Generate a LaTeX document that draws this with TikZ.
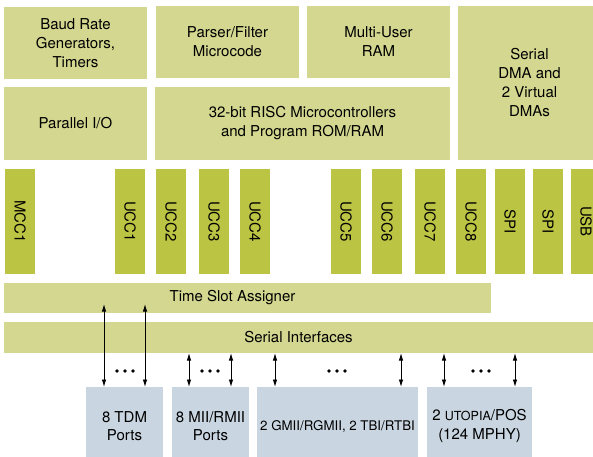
\documentclass[tikz,border=0pt]{standalone}
\usepackage{fontspec}
\setmainfont{TeX Gyre Heros}
\usetikzlibrary{arrows.meta}
\definecolor{blockgreen}{RGB}{211,215,143}
\definecolor{ccgreen}{RGB}{188,196,67}
\definecolor{portblue}{RGB}{201,213,224}
\tikzset{
  blk/.style={fill=blockgreen, inner sep=0pt, outer sep=0pt, align=center,
    font=\fontsize{15}{19}\selectfont},
  cc/.style={fill=ccgreen, inner sep=0pt, outer sep=0pt,
    minimum width=30pt, minimum height=105pt},
  cclabel/.style={rotate=-90, font=\fontsize{15}{18}\selectfont},
  port/.style={fill=portblue, inner sep=0pt, outer sep=0pt, align=center,
    minimum height=78pt, font=\fontsize{15}{18.5}\selectfont},
  link/.style={line width=0.9pt, {Latex[length=7.5pt,width=4.5pt]}-{Latex[length=7.5pt,width=4.5pt]}},
  dotmark/.style={fill=black, radius=1.8pt}
}
\begin{document}
\begin{tikzpicture}[x=1pt, y=-1pt]
\clip (0,0) rectangle (593,456);
\fill[white] (0,0) rectangle (593,456);

% top blocks
\node[blk, minimum width=143pt, minimum height=72pt] (baud) at (75.5,43) {Baud Rate\\Generators,\\Timers};
\node[blk, minimum width=143pt, minimum height=72pt] (parser) at (227.5,42) {Parser/Filter\\Microcode};
\node[blk, minimum width=143pt, minimum height=72pt] (mram) at (378.5,42) {Multi-User\\RAM};
\node[blk, minimum width=143pt, minimum height=154pt] (sdma) at (529.5,83) {Serial\\DMA and\\2 Virtual\\DMAs};
\node[blk, minimum width=143pt, minimum height=73pt] (pio) at (75.5,123.5) {Parallel I/O};
\node[blk, minimum width=295pt, minimum height=73pt] (risc) at (302.5,123.5) {32-bit RISC Microcontrollers\\and Program ROM/RAM};

% communication controllers
\foreach \nm/\cx/\lbl in {mcc1/20/MCC1, ucc1/130/UCC1, ucc2/171/UCC2, ucc3/214/UCC3,
    ucc4/255/UCC4, ucc5/346/UCC5, ucc6/387/UCC6, ucc7/430/UCC7, ucc8/471/UCC8,
    spia/510/SPI, spib/548/SPI, usb/586/USB} {
  \node[cc] (\nm) at (\cx,221.5) {};
  \node[cclabel] at (\nm.center) {\lbl};
}

% interface bars
\node[blk, minimum width=487pt, minimum height=30pt] (tsa) at (247.5,298) {};
\node[font=\fontsize{15}{18}\selectfont] at (232.5,298) {Time Slot Assigner};
\node[blk, minimum width=589pt, minimum height=31pt] (si) at (298.5,337.5) {Serial Interfaces};

% ports
\node[port, minimum width=77pt] (tdm) at (124.5,426) {8 TDM\\Ports};
\node[port, minimum width=77pt] (mii) at (210.5,426) {8 MII/RMII\\Ports};
\node[port, minimum width=161pt, font=\fontsize{13.3}{16}\selectfont] (gmii) at (337.5,426) {2 GMII/RGMII, 2 TBI/RTBI};
\node[port, minimum width=105pt] (uto) at (479.5,426) {2 {\fontsize{12.5}{15}\selectfont UTOPIA}/POS\\(124 MPHY)};

% connector columns
\coordinate (ta) at (104,304);
\coordinate (tb) at (145,304);
\foreach \c/\x in {ma/189, mb/231, ga/275, gb/401, ua/444, ub/515}
  \coordinate (\c) at (\x,0);

\draw[link] (tdm.north -| ta) -- (ta);
\draw[link] (tdm.north -| tb) -- (tb);
\draw[link] (mii.north -| ma) -- (si.south -| ma);
\draw[link] (mii.north -| mb) -- (si.south -| mb);
\draw[link] (gmii.north -| ga) -- (si.south -| ga);
\draw[link] (gmii.north -| gb) -- (si.south -| gb);
\draw[link] (uto.north -| ua) -- (si.south -| ua);
\draw[link] (uto.north -| ub) -- (si.south -| ub);

% ellipses between the connectors
\foreach \cx in {125,210,337,481}
  \foreach \d in {-8,0,8}
    \fill[dotmark] (\cx+\d,371) circle;
\end{tikzpicture}
\end{document}
